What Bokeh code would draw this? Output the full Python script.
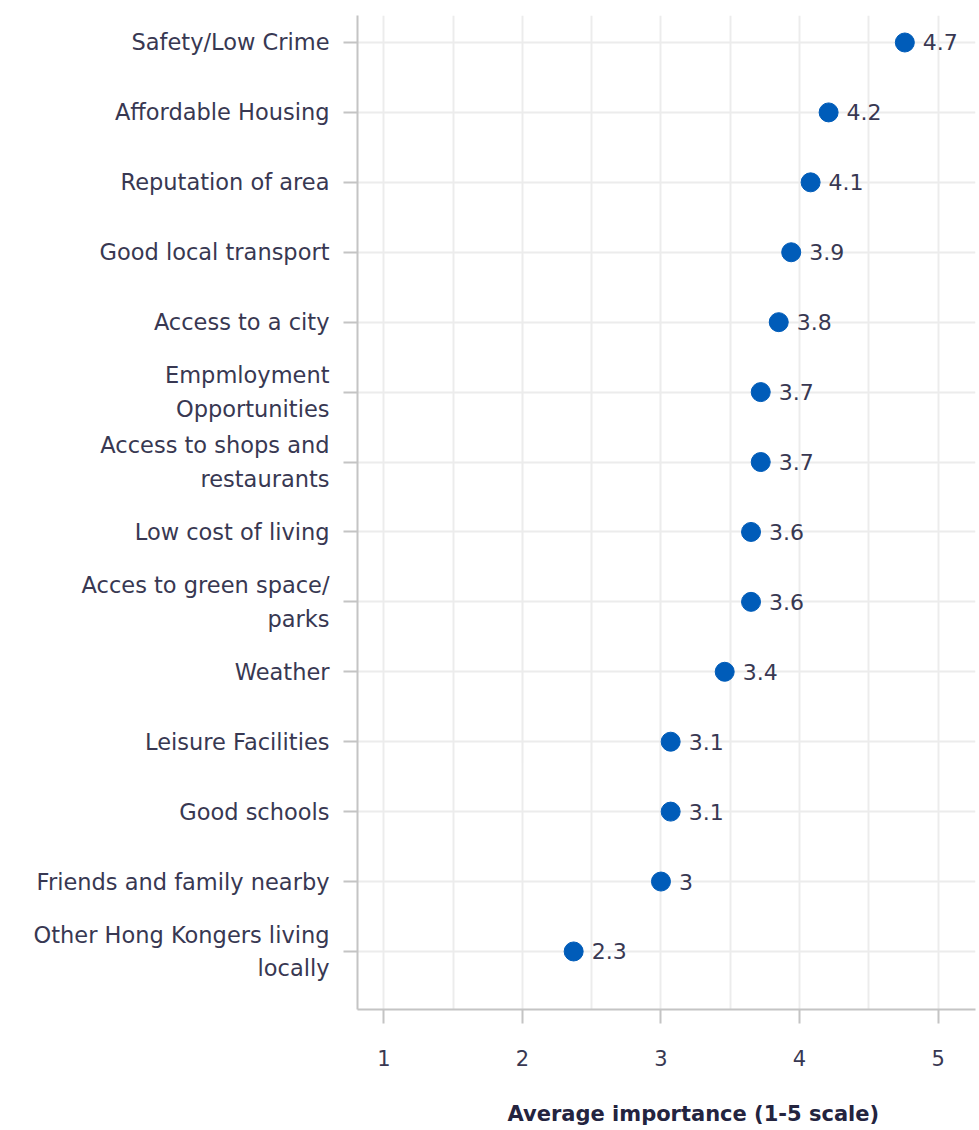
from bokeh.plotting import figure
from bokeh.models import Range1d, FixedTicker, ColumnDataSource, Title
from bokeh.core.properties import value
from bokeh.embed import file_html
from bokeh.resources import INLINE

categories = [
    "Safety/Low Crime",
    "Affordable Housing",
    "Reputation of area",
    "Good local transport",
    "Access to a city",
    "Empmloyment\nOpportunities",
    "Access to shops and\nrestaurants",
    "Low cost of living",
    "Acces to green space/\nparks",
    "Weather",
    "Leisure Facilities",
    "Good schools",
    "Friends and family nearby",
    "Other Hong Kongers living\nlocally",
]
values = [4.76, 4.21, 4.08, 3.94, 3.85, 3.72, 3.72, 3.65, 3.65, 3.46, 3.07, 3.07, 3.00, 2.37]
value_labels = ["4.7", "4.2", "4.1", "3.9", "3.8", "3.7", "3.7", "3.6", "3.6", "3.4", "3.1", "3.1", "3", "2.3"]
x_ticks = [1, 2, 3, 4, 5]
x_title = "Average importance (1-5 scale)"

FONT = "DejaVu Sans"
TXT = "#383852"
AXIS = "#c4c4c4"
GRID = "#ececec"
DOT = "#005cb9"

pos = list(range(len(categories)))
src = ColumnDataSource(dict(x=values, y=pos, lab=value_labels))

p = figure(width=979, height=1130, output_backend="svg", toolbar_location=None,
           x_range=Range1d(0.81, 5.27), y_range=Range1d(13.83, -0.386),
           min_border_left=357, min_border_top=15, min_border_right=4, min_border_bottom=120)
p.outline_line_color = None
p.background_fill_color = "white"
p.border_fill_color = "white"

# axes
p.xaxis.ticker = FixedTicker(ticks=x_ticks)
p.yaxis.ticker = FixedTicker(ticks=pos)
p.yaxis.major_label_overrides = {i: c for i, c in enumerate(categories)}
for ax in (p.xaxis[0], p.yaxis[0]):
    ax.axis_line_color = AXIS
    ax.axis_line_width = 2
    ax.major_tick_line_color = AXIS
    ax.major_tick_line_width = 2
    ax.major_tick_out = 14
    ax.major_tick_in = 0
    ax.minor_tick_line_color = None
    ax.major_label_text_font = FONT
    ax.major_label_text_color = TXT
p.yaxis.major_label_text_font_size = "22.5px"
p.xaxis.major_label_text_font_size = "21px"
p.yaxis.major_label_standoff = 14
p.yaxis.major_label_text_line_height = 1.3
p.xaxis.major_label_standoff = 26
# blank spacer label so the title below sits lower
p.xaxis.axis_label = "\u00a0"
p.xaxis.axis_label_text_font_size = "10px"
p.xaxis.axis_label_standoff = 12

# axis title, placed below the axis where the reference puts it
p.add_layout(Title(text=x_title, align="left", offset=150, standoff=10,
                   text_font=FONT, text_font_style="bold", text_font_size="21px",
                   text_color="#24243f"), "below")

# grids
p.xgrid.ticker = FixedTicker(ticks=[1, 1.5, 2, 2.5, 3, 3.5, 4, 4.5, 5])
p.xgrid.grid_line_color = GRID
p.xgrid.grid_line_width = 2
p.ygrid.ticker = FixedTicker(ticks=pos)
p.ygrid.grid_line_color = GRID
p.ygrid.grid_line_width = 2

p.scatter("x", "y", source=src, size=19, fill_color=DOT, line_color=DOT)
p.text("x", "y", text="lab", source=src, x_offset=18, text_baseline="middle",
       text_align="left", text_font=value(FONT), text_font_size="22px", text_color=TXT)

open("out.html", "w").write(file_html(p, INLINE))
